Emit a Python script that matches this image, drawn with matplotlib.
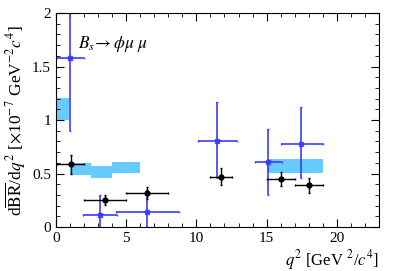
import matplotlib
matplotlib.use("Agg")
import matplotlib.pyplot as plt
import numpy as np
from matplotlib.ticker import MultipleLocator

plt.rcParams.update({'font.family': ['Liberation Serif', 'DejaVu Serif'],
                     'mathtext.fontset': 'stix',
                     'xtick.direction': 'in',
                     'ytick.direction': 'in',
                     'xtick.top': True,
                     'ytick.right': True})

# black points (measurement)
blk_lo = [0.1, 2.0, 5.0, 11.0, 15.0, 17.0]
blk_hi = [2.0, 5.0, 8.0, 12.5, 17.0, 19.0]
blk_x = [1.05, 3.5, 6.5, 11.75, 16.0, 18.0]
blk_y = [0.586, 0.252, 0.32, 0.47, 0.449, 0.39]
blk_e = [0.087, 0.05, 0.053, 0.08, 0.067, 0.07]

# blue points
blu_lo = [0.0, 1.95, 4.26, 10.15, 14.17, 16.0]
blu_hi = [2.0, 4.33, 8.74, 12.9, 16.07, 18.98]
blu_x = [1.0, 3.14, 6.48, 11.48, 15.12, 17.48]
blu_y = [1.577, 0.109, 0.14, 0.807, 0.604, 0.78]
blu_eup = [0.68, 0.19, 0.205, 0.36, 0.31, 0.34]
blu_edn = [0.68, 0.109, 0.14, 0.35, 0.30, 0.32]

# theory boxes
th_lo = [0.1, 1.0, 2.5, 4.0, 15.0]
th_hi = [0.95, 2.5, 4.0, 6.0, 19.0]
th_bot = [1.0, 0.483, 0.455, 0.507, 0.507]
th_top = [1.21, 0.595, 0.57, 0.607, 0.636]

fig = plt.figure(figsize=(3.99, 2.71), dpi=100)
ax = fig.add_axes([0.140, 0.162, 0.810, 0.790])

for lo, hi, b, t in zip(th_lo, th_hi, th_bot, th_top):
    ax.fill_between([lo, hi], [b, b], [t, t], color='#66ccff', lw=0, zorder=1)

bx = np.array(blu_x)
ax.errorbar(bx, blu_y, xerr=[bx - np.array(blu_lo), np.array(blu_hi) - bx],
            yerr=[blu_edn, blu_eup], fmt='s', ms=2.5, color='#3a3aff',
            elinewidth=1.4, capsize=1, alpha=0.85, zorder=2)

kx = np.array(blk_x)
ax.errorbar(kx, blk_y, xerr=[kx - np.array(blk_lo), np.array(blk_hi) - kx],
            yerr=blk_e, fmt='o', ms=3.5, color='black',
            elinewidth=1.0, capsize=1, zorder=3)

ax.set_xlim(0, 23)
ax.set_ylim(0, 2)
ax.xaxis.set_major_locator(MultipleLocator(5))
ax.xaxis.set_minor_locator(MultipleLocator(1))
ax.yaxis.set_major_locator(MultipleLocator(0.5))
ax.yaxis.set_minor_locator(MultipleLocator(0.1))
ax.tick_params(which='major', length=6, labelsize=11)
ax.tick_params(which='minor', length=3)
ax.set_yticks([0, 0.5, 1, 1.5, 2])
ax.set_yticklabels(['0', '0.5', '1', '1.5', '2'])

ax.text(1.55, 1.67, r'$B_s\!\rightarrow \phi\mu\ \mu$', fontsize=12.5)

ax.set_ylabel(r'd$\overline{\rm BR}$/d$q^2$ [$\times$10$^{-7}$ GeV$^{-2}c^4$]',
              fontsize=12.5, labelpad=3)
ax.set_xlabel(r'$q^2$ [GeV $^2$/$c^4$]', fontsize=12, loc='right', labelpad=2)

fig.savefig("out.png", dpi=100)
